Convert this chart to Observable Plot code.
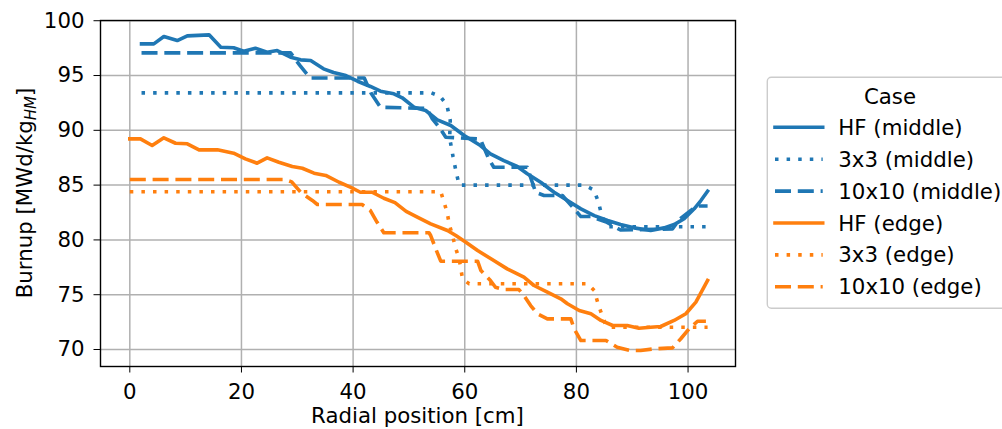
<!DOCTYPE html>
<html>
<head>
<meta charset="utf-8">
<script src="https://cdn.jsdelivr.net/npm/d3@7"></script>
<script src="https://cdn.jsdelivr.net/npm/@observablehq/plot@0.6"></script>
<style>
  html, body { margin: 0; padding: 0; background: white; }
  #chart { width: 1002px; height: 429px; overflow: hidden; }
</style>
</head>
<body>
<div id="chart"></div>
<script>
// ---- data (radial position [cm], burnup [MWd/kgHM]) ----
const hfMiddle = [[2.1,97.89],[4.3,97.89],[6.1,98.56],[8.5,98.19],[10.3,98.62],[14.2,98.71],[16.3,97.58],[18.6,97.53],[20.4,97.22],[22.5,97.49],[24.6,97.13],[26.4,97.28],[28.8,96.67],[30.6,96.43],[32.4,96.37],[34.7,95.61],[36.5,95.27],[38.7,95.0],[40.8,94.48],[43.1,94.0],[44.9,93.57],[47.3,93.33],[48.8,92.97],[50.9,92.11],[53.0,91.81],[55.1,90.96],[57.5,90.44],[59.9,89.53],[62.8,88.61],[64.6,87.86],[67.0,87.24],[69.4,86.70],[71.2,86.03],[73.6,85.26],[76.0,84.35],[78.4,83.59],[80.8,82.83],[83.2,82.22],[85.6,81.77],[87.9,81.40],[90.3,81.10],[93.3,80.86],[95.7,81.10],[97.5,81.40],[99.3,81.93],[101.1,82.84],[102.3,83.59],[103.5,84.44]];
const threeMiddle = [[2.1,93.42],[54.0,93.42],[55.6,93.1],[56.8,92.3],[57.4,90.9],[57.3,89.3],[57.9,87.6],[58.5,86.1],[59.0,85.0],[81.4,85.0],[83.1,84.57],[83.9,83.53],[84.4,82.53],[85.0,81.6],[85.8,81.2],[103.5,81.2]];
const tenMiddle = [[2.1,97.07],[28.8,97.07],[30.5,95.9],[32.3,94.77],[42.0,94.77],[43.2,93.4],[44.9,92.1],[53.2,92.0],[54.2,91.05],[55.4,90.3],[56.6,89.37],[62.8,89.2],[64.2,87.5],[65.2,86.63],[71.2,86.63],[71.8,85.7],[72.7,84.35],[74.2,84.05],[77.5,84.05],[80.8,82.13],[82.6,82.13],[85.5,81.6],[87.9,80.9],[97.2,81.0],[98.5,81.9],[100.8,82.8],[101.6,83.1],[103.5,83.1]];
const hfEdge = [[0,89.22],[1.9,89.22],[4.0,88.61],[6.1,89.32],[8.2,88.82],[10.3,88.77],[12.4,88.22],[15.7,88.22],[18.6,87.91],[20.7,87.4],[22.8,87.0],[24.6,87.49],[26.7,87.09],[29.1,86.7],[30.9,86.54],[33.0,86.09],[35.1,85.88],[37.5,85.26],[39.6,84.8],[41.3,84.35],[43.4,84.35],[45.5,83.8],[47.5,83.4],[49.5,82.6],[51.5,82.08],[53.9,81.47],[56.9,80.86],[58.4,80.4],[60.2,79.79],[62.3,79.03],[65.2,78.12],[67.6,77.36],[70.6,76.6],[72.4,75.84],[74.8,75.23],[77.2,74.63],[78.4,74.17],[80.5,73.56],[82.6,73.26],[84.4,72.65],[86.5,72.19],[89.1,72.19],[91.2,71.94],[93.3,72.03],[95.1,72.1],[97.5,72.65],[99.6,73.26],[101.4,74.32],[103.5,76.3]];
const threeEdge = [[0,84.4],[55.7,84.4],[56.3,83.44],[56.9,82.38],[57.2,81.47],[57.8,80.4],[58.4,79.19],[59.0,78.28],[59.3,77.36],[59.6,76.45],[60.8,76.0],[82.0,76.0],[83.2,75.38],[83.8,74.32],[84.4,73.4],[85.3,72.19],[86.2,72.03],[103.5,72.03]];
const tenEdge = [[0,85.51],[27.8,85.51],[29.0,85.3],[30.6,84.35],[32.7,83.6],[33.6,83.23],[41.6,83.23],[43.1,82.68],[44.3,81.61],[45.5,80.65],[53.6,80.65],[53.9,80.4],[54.8,79.19],[55.7,78.06],[62.3,78.06],[62.9,77.2],[64.6,76.3],[65.5,75.68],[67.0,75.47],[69.7,75.47],[70.6,74.93],[71.8,74.01],[73.0,73.26],[74.8,72.8],[79.0,72.8],[79.6,71.89],[80.8,70.82],[85.3,70.82],[87.3,70.21],[89.7,69.91],[91.5,69.91],[93.9,70.06],[97.2,70.15],[98.7,70.98],[100.2,71.89],[101.7,72.58],[103.2,72.58]];

const seriesNames = ["HF (middle)", "3x3 (middle)", "10x10 (middle)", "HF (edge)", "3x3 (edge)", "10x10 (edge)"];
const seriesData = [hfMiddle, threeMiddle, tenMiddle, hfEdge, threeEdge, tenEdge];
const xTicks = [0, 20, 40, 60, 80, 100];
const yTicks = [70, 75, 80, 85, 90, 95, 100];
const legendTitle = "Case";
const xLabel = "Radial position [cm]";

// ---- styles ----
const BLUE = "#1f77b4", ORANGE = "#ff7f0e";
const LW = 3.6;
const DOT = "3.5,8.1";
const DASH = "16,6.8";
const styles = [
  {stroke: BLUE, dash: null},
  {stroke: BLUE, dash: DOT},
  {stroke: BLUE, dash: DASH},
  {stroke: ORANGE, dash: null},
  {stroke: ORANGE, dash: DOT},
  {stroke: ORANGE, dash: DASH}
];
const FONT = "DejaVu Sans";
const FS = 21.3;

const lineMarks = seriesData.map((d, i) => Plot.line(d, {
  x: p => p[0], y: p => p[1],
  stroke: styles[i].stroke,
  strokeWidth: LW,
  strokeDasharray: styles[i].dash || undefined,
  strokeLinecap: styles[i].dash ? "butt" : "square",
  strokeLinejoin: "round"
}));

const plot = Plot.plot({
  width: 1002,
  height: 429,
  marginLeft: 100,
  marginRight: 267,
  marginTop: 20,
  marginBottom: 63,
  style: {fontFamily: FONT, fontSize: FS + "px", color: "black", background: "white", overflow: "visible"},
  x: {domain: [-5.25, 108.5]},
  y: {domain: [68.45, 100.02]},
  marks: [
    Plot.gridX(xTicks, {stroke: "#b0b0b0", strokeOpacity: 1, strokeWidth: 1.5}),
    Plot.gridY(yTicks, {stroke: "#b0b0b0", strokeOpacity: 1, strokeWidth: 1.5}),
    ...lineMarks,
    Plot.frame({stroke: "black", strokeWidth: 1.4}),
    Plot.axisX(xTicks, {tickSize: 6.5, tickPadding: 11.2, fontSize: FS, label: null, tickFormat: d => String(d)}),
    Plot.axisY(yTicks, {tickSize: 6.5, tickPadding: 9.5, fontSize: FS, label: null, tickFormat: d => String(d)})
  ]
});
document.getElementById("chart").appendChild(plot);

const svg = d3.select(plot);
// axis labels
svg.append("text")
  .attr("x", 417.5).attr("y", 423)
  .attr("text-anchor", "middle")
  .attr("font-family", FONT).attr("font-size", FS).attr("fill", "black")
  .text(xLabel);

const yl = svg.append("text")
  .attr("transform", "translate(31.5,193) rotate(-90)")
  .attr("text-anchor", "middle")
  .attr("font-family", FONT).attr("font-size", FS).attr("fill", "black");
yl.append("tspan").text("Burnup [MWd/kg");
yl.append("tspan").attr("font-size", 15).attr("font-style", "italic").attr("dy", 4.3).text("HM");
yl.append("tspan").attr("dy", -4.3).text("]");

// legend
const lg = svg.append("g").attr("font-family", FONT).attr("font-size", FS).attr("fill", "black");
lg.append("rect")
  .attr("x", 767.3).attr("y", 77.3).attr("width", 246).attr("height", 231)
  .attr("rx", 4).attr("fill", "white").attr("stroke", "#cccccc").attr("stroke-width", 1.4);
lg.append("text").attr("x", 890).attr("y", 103.5).attr("text-anchor", "middle").text(legendTitle);
seriesNames.forEach((name, i) => {
  const cy = 127.3 + i * 31.9;
  const ln = lg.append("line")
    .attr("x1", 775).attr("x2", 822.7).attr("y1", cy).attr("y2", cy)
    .attr("stroke", styles[i].stroke).attr("stroke-width", LW)
    .attr("stroke-linecap", styles[i].dash ? "butt" : "square");
  if (styles[i].dash) ln.attr("stroke-dasharray", styles[i].dash);
  lg.append("text").attr("x", 838.3).attr("y", cy + 7.5).attr("text-anchor", "start").text(name);
});
</script>
</body>
</html>
